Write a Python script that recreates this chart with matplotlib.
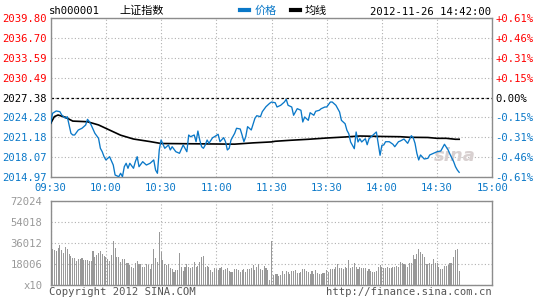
import matplotlib
matplotlib.use("Agg")
import matplotlib.pyplot as plt
from matplotlib.lines import Line2D

# ---------------- data ----------------
prev_close = 2027.38
price_ticks = [2014.97, 2018.07, 2021.18, 2024.28, 2027.38, 2030.49, 2033.59, 2036.70, 2039.80]
pct_labels = ["-0.61%", "-0.46%", "-0.31%", "-0.15%", "0.00%", "+0.15%", "+0.31%", "+0.46%", "+0.61%"]
time_labels = ["09:30", "10:00", "10:30", "11:00", "11:30", "13:30", "14:00", "14:30", "15:00"]
vol_ticks = [0, 18.006, 36.012, 54.018, 72.024]
vol_labels = ["x10", "18006", "36012", "54018", "72024"]

# price: (trading minute since 09:30, price)
price_min = [0, 1, 3, 5, 6, 8, 9, 10, 11, 12, 13, 15, 17, 18, 19, 20, 21, 22, 24, 26,
             27, 28, 29, 30, 32, 34, 35, 37, 38, 39, 40, 41, 42, 43, 45, 46, 47, 48, 50, 52,
             54, 56, 57, 58, 59, 60, 62, 64, 65, 66, 68, 70, 72, 74, 75, 76, 78, 79, 80, 81,
             82, 83, 84, 85, 86, 88, 89, 91, 92, 94, 95, 96, 97, 98, 100, 101, 103, 104, 105, 106,
             107, 109, 111, 112, 114, 115, 117, 119, 120, 122, 123, 125, 127, 128, 129, 131, 132, 134, 136, 137,
             138, 140, 141, 143, 144, 146, 147, 149, 150, 152, 153, 155, 157, 158, 160, 161, 162, 163, 165, 166,
             167, 168, 169, 171, 172, 173, 175, 177, 178, 179, 180, 181, 182, 184, 186, 187, 189, 190, 192, 194,
             196, 197, 198, 199, 200, 201, 203, 205, 206, 208, 210, 212, 214, 216, 217, 219, 220, 221, 222]
price_val = [2023.36, 2024.92, 2025.28, 2025.17, 2024.65, 2024.14, 2024.39, 2023.09, 2021.80, 2021.53,
             2021.53, 2022.31, 2022.58, 2022.83, 2023.09, 2023.98, 2023.61, 2023.09, 2021.80, 2021.01,
             2019.45, 2018.92, 2018.14, 2017.63, 2018.14, 2016.84, 2015.28, 2015.02, 2015.55, 2015.02,
             2016.58, 2017.11, 2016.33, 2017.11, 2016.33, 2017.36, 2018.14, 2016.58, 2017.36, 2016.84,
             2017.11, 2017.63, 2016.06, 2015.55, 2019.19, 2020.75, 2019.45, 2019.97, 2019.19, 2019.70,
             2018.92, 2018.67, 2019.97, 2018.92, 2021.53, 2021.26, 2021.53, 2020.48, 2022.15, 2020.75,
             2019.70, 2019.45, 2019.97, 2020.75, 2020.23, 2021.11, 2021.26, 2021.64, 2020.48, 2021.11,
             2020.48, 2019.19, 2019.45, 2020.75, 2021.80, 2022.58, 2022.47, 2021.53, 2020.48, 2021.26,
             2022.83, 2022.31, 2024.14, 2024.54, 2024.39, 2025.17, 2025.95, 2026.48, 2026.68, 2026.57,
             2025.90, 2026.17, 2026.68, 2027.10, 2026.17, 2025.90, 2024.61, 2025.64, 2025.39, 2023.56,
             2024.34, 2023.82, 2025.01, 2024.61, 2025.23, 2025.39, 2025.64, 2025.90, 2025.90, 2026.68,
             2026.68, 2026.17, 2025.12, 2023.82, 2023.29, 2022.26, 2021.73, 2020.44, 2019.39, 2022.00,
             2020.44, 2020.95, 2020.44, 2020.95, 2020.01, 2020.95, 2021.48, 2022.00, 2020.17, 2018.36,
             2019.92, 2019.97, 2020.48, 2020.48, 2020.08, 2019.70, 2020.48, 2020.59, 2020.90, 2020.23,
             2021.42, 2021.11, 2020.23, 2018.67, 2017.63, 2018.41, 2017.78, 2017.89, 2018.41, 2018.67,
             2018.92, 2019.03, 2020.08, 2019.19, 2018.52, 2017.36, 2016.58, 2016.06, 2015.70]

avg_min = [0, 2, 4, 8, 12, 20, 26, 32, 38, 45, 54, 60, 100, 110, 120, 122, 130, 140, 150, 160,
           168, 180, 190, 195, 205, 210, 215, 220, 222]
avg_val = [2023.36, 2024.40, 2024.65, 2024.30, 2023.70, 2023.60, 2023.10, 2022.30, 2021.50, 2020.90,
           2020.50, 2020.20, 2020.10, 2020.30, 2020.45, 2020.55, 2020.70, 2020.86, 2021.06, 2021.22,
           2021.37, 2021.30, 2021.26, 2021.17, 2021.14, 2021.01, 2021.01, 2020.86, 2020.86]

# volume per minute (thousands, shown axis is x10)
volume_k = [30.9, 30.9, 30.3, 29.2, 32.0, 34.3, 30.0, 27.4, 32.6, 30.9,
            26.3, 24.9, 23.4, 23.4, 20.6, 22.6, 22.0, 23.2, 21.4, 21.4,
            21.1, 20.9, 20.6, 29.2, 24.3, 25.7, 27.2, 29.2, 26.3, 25.2,
            24.0, 22.3, 20.6, 25.7, 37.7, 32.0, 24.0, 24.0, 20.0, 22.3,
            22.3, 18.6, 18.6, 17.1, 15.7, 14.9, 18.9, 20.6, 17.7, 17.7,
            15.7, 15.7, 17.7, 17.1, 13.7, 17.7, 30.9, 23.4, 20.0, 45.7,
            28.6, 21.4, 17.7, 17.1, 17.7, 14.3, 13.7, 11.4, 12.9, 12.9,
            27.2, 15.7, 12.0, 15.7, 17.7, 15.7, 14.3, 15.7, 20.0, 15.7,
            16.6, 20.0, 24.3, 25.2, 15.7, 16.6, 15.7, 12.9, 11.4, 14.9,
            13.7, 12.9, 14.3, 15.7, 12.9, 13.7, 14.9, 12.0, 10.9, 11.4,
            13.7, 13.7, 12.9, 11.4, 12.6, 13.7, 11.4, 13.7, 13.7, 14.9,
            17.1, 12.9, 15.7, 17.7, 13.7, 12.9, 16.6, 14.9, 12.9, 4.3,
            37.5, 8.6, 9.4, 9.4, 7.7, 8.6, 12.3, 9.4, 12.0, 11.4,
            9.4, 12.3, 12.3, 13.0, 10.0, 10.0, 11.4, 13.4, 14.0, 12.3,
            11.4, 9.4, 12.3, 9.4, 13.0, 10.0, 9.4, 9.4, 10.0, 10.0,
            13.0, 11.4, 13.4, 13.4, 13.4, 15.1, 18.0, 14.3, 14.3, 13.4,
            15.1, 14.3, 21.4, 14.9, 15.1, 18.6, 15.1, 13.4, 15.1, 14.3,
            14.3, 14.3, 12.3, 13.4, 12.3, 11.4, 11.4, 12.3, 15.1, 17.1,
            15.1, 14.3, 14.3, 15.1, 14.3, 14.3, 15.1, 15.4, 16.0, 15.1,
            20.0, 18.6, 18.0, 17.1, 15.4, 18.6, 18.6, 25.7, 22.3, 26.6,
            30.6, 28.6, 26.6, 23.7, 18.0, 18.0, 19.1, 18.0, 22.0, 18.6,
            18.6, 15.7, 13.4, 13.4, 16.6, 16.6, 17.1, 18.6, 18.6, 24.3,
            30.0, 30.9, 12.3]
vol_min = list(range(len(volume_k)))

# ---------------- style ----------------
W, H = 545, 300
BLUE = "#0a78c8"
RED = "#ff0000"
GRAY = "#999999"
FRAME = "#8c8c8c"
MONO = "DejaVu Sans Mono"
CJK = ["Noto Sans CJK SC", "DejaVu Sans"]
FS = 7.6

fig = plt.figure(figsize=(W / 100, H / 100), dpi=100)
fig.patch.set_facecolor("white")

L, R = 50.7, 492.3
ax = fig.add_axes([L / W, 1 - 177 / H, (R - L) / W, 159 / H])
axv = fig.add_axes([L / W, 1 - 285 / H, (R - L) / W, 84 / H])

xt = [0, 30, 60, 90, 120, 150, 180, 210, 240]

for a in (ax, axv):
    a.set_xlim(0, 240)
    a.set_xticks(xt)
    for s in a.spines.values():
        s.set_color(FRAME)
        s.set_linewidth(1.0)
    a.tick_params(length=0)
    a.grid(True, color="#b0b0b0", linestyle=(0, (1, 2)), linewidth=0.8)
    a.set_axisbelow(True)

# price panel
ax.set_ylim(price_ticks[0], price_ticks[-1])
ax.set_yticks(price_ticks)
ax.set_yticklabels([f"{v:.2f}" for v in price_ticks], family=MONO, fontsize=FS)
for lab, v in zip(ax.get_yticklabels(), price_ticks):
    lab.set_color(RED if v > prev_close else ("black" if v == prev_close else BLUE))
ax.tick_params(axis="y", pad=3)
ax.set_xticklabels([])
ax.axhline(prev_close, color="black", linestyle=(0, (2, 2)), linewidth=0.9, zorder=1)

ax2 = ax.twinx()
ax2.set_ylim(ax.get_ylim())
ax2.set_yticks(price_ticks)
ax2.set_yticklabels(pct_labels, family=MONO, fontsize=FS)
for lab, v in zip(ax2.get_yticklabels(), price_ticks):
    lab.set_color(RED if v > prev_close else ("black" if v == prev_close else BLUE))
ax2.tick_params(length=0, pad=2)
for s in ax2.spines.values():
    s.set_visible(False)

ax.plot(avg_min, avg_val, color="black", linewidth=1.2, zorder=3)
ax.plot(price_min, price_val, color=BLUE, linewidth=0.95, zorder=4)

ax.text(0.915, 0.13, "sina", transform=ax.transAxes, fontsize=13, fontweight="bold",
        fontstyle="italic", color="#d8d0d0", ha="center", va="center", zorder=2)

# time labels between panels
for m, t in zip(xt, time_labels):
    fig.text((L + (R - L) * m / 240) / W, 1 - 188 / H, t, family=MONO, fontsize=FS,
             color=BLUE, ha="center", va="center")

# volume panel
axv.set_ylim(0, 72.024)
axv.set_yticks(vol_ticks)
axv.set_yticklabels(vol_labels, family=MONO, fontsize=FS, color=GRAY)
axv.tick_params(axis="y", pad=6)
axv.set_xticklabels([])
axv.bar(vol_min, volume_k, width=0.6, color=GRAY, linewidth=0, zorder=3)

# header
def ftext(x, y, s, **kw):
    fig.text(x / W, 1 - y / H, s, va="center", **kw)

ftext(49, 11, "sh000001", family=MONO, fontsize=FS, color="black")
ftext(119, 11, "上证指数", family=CJK, fontsize=8, color="black")
fig.add_artist(Line2D([240 / W, 249 / W], [1 - 10 / H, 1 - 10 / H], color=BLUE, linewidth=3))
ftext(255, 11, "价格", family=CJK, fontsize=8, color=BLUE)
fig.add_artist(Line2D([291 / W, 300 / W], [1 - 10 / H, 1 - 10 / H], color="black", linewidth=3))
ftext(305, 11, "均线", family=CJK, fontsize=8, color="black")
ftext(491, 12, "2012-11-26 14:42:00", family=MONO, fontsize=FS, color="black", ha="right")

# footer
ftext(49, 292, "Copyright 2012 SINA.COM", family=MONO, fontsize=FS, color="#555555")
ftext(492, 292, "http://finance.sina.com.cn", family=MONO, fontsize=FS, color="#555555", ha="right")

fig.savefig("out.png", dpi=100, facecolor="white")
